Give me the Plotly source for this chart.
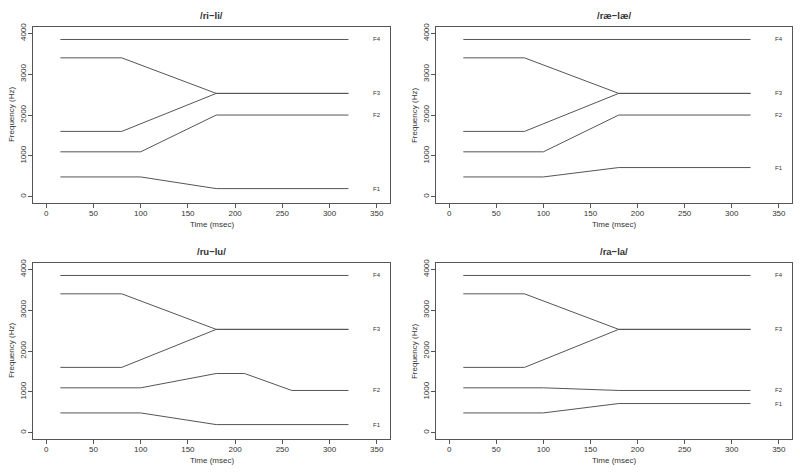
import plotly.graph_objects as go

# ---- data ----
titles = ["/ri\u2212li/", "/r\u00e6\u2212l\u00e6/", "/ru\u2212lu/", "/ra\u2212la/"]

t4 = [15, 320]
t3 = [15, 80, 180, 320]
t12 = [15, 100, 180, 320]
t2_ru = [15, 100, 180, 210, 260, 320]

f4 = [3850, 3850]
f3_r = [3400, 3400, 2530, 2530]
f3_l = [1600, 1600, 2530, 2530]

f2_ri = [1100, 1100, 2000, 2000]
f2_rae = [1100, 1100, 2000, 2000]
f2_ru = [1100, 1100, 1450, 1450, 1035, 1035]
f2_ra = [1100, 1100, 1035, 1035]

f1_ri = [485, 485, 200, 200]
f1_rae = [485, 485, 715, 715]
f1_ru = [485, 485, 200, 200]
f1_ra = [485, 485, 715, 715]

label_x = 350
formant_names = ["F1", "F2", "F3", "F4"]

x_ticks = [0, 50, 100, 150, 200, 250, 300, 350]
y_ticks = [0, 1000, 2000, 3000, 4000]

panels = [
    dict(f1=(t12, f1_ri), f2=(t12, f2_ri)),
    dict(f1=(t12, f1_rae), f2=(t12, f2_rae)),
    dict(f1=(t12, f1_ru), f2=(t2_ru, f2_ru)),
    dict(f1=(t12, f1_ra), f2=(t12, f2_ra)),
]

# ---- layout geometry (pixels) ----
W, H = 800, 473
boxes = [  # left, right, top, bottom
    (33, 390, 23, 201),
    (436, 792, 23, 201),
    (33, 390, 261, 439),
    (436, 792, 261, 439),
]

LINE = "#555555"
TXT = "#333333"
FONT = "Liberation Sans, Arial, sans-serif"

fig = go.Figure()
layout = dict(
    width=W, height=H, margin=dict(l=0, r=0, t=0, b=0),
    paper_bgcolor="white", plot_bgcolor="white", showlegend=False,
    font=dict(family=FONT, color=TXT, size=8),
)
annotations = []

for i, p in enumerate(panels):
    n = "" if i == 0 else str(i + 1)
    xa, ya = "x" + n, "y" + n
    traces = [p["f1"], p["f2"], (t3, f3_r), (t3, f3_l), (t4, f4)]
    for (tx, fy) in traces:
        fig.add_trace(go.Scatter(x=tx, y=fy, mode="lines", xaxis=xa, yaxis=ya,
                                 line=dict(color=LINE, width=1), hoverinfo="skip"))
    ends = [p["f1"][1][-1], p["f2"][1][-1], f3_r[-1], f4[-1]]
    for name, yv in zip(formant_names, ends):
        annotations.append(dict(x=label_x, y=yv, xref=xa, yref=ya, text=name,
                                showarrow=False, font=dict(size=6, color=TXT),
                                xanchor="center", yanchor="middle"))
    l, r, t, b = boxes[i]
    layout["xaxis" + n] = dict(
        domain=[l / W, r / W], range=[-14, 364], anchor=ya,
        tickvals=x_ticks, ticks="outside", ticklen=4, tickcolor=LINE,
        showline=True, mirror=True, linecolor=LINE, linewidth=1,
        showgrid=False, zeroline=False, tickfont=dict(size=8, color=TXT),
        ticklabelstandoff=-2,
    )
    layout["yaxis" + n] = dict(
        domain=[1 - b / H, 1 - t / H], range=[-160, 4160], anchor=xa,
        tickvals=y_ticks, ticks="outside", ticklen=4, tickcolor=LINE,
        showline=True, mirror=True, linecolor=LINE, linewidth=1,
        showgrid=False, zeroline=False, tickangle=-90,
        tickfont=dict(size=8, color=TXT), ticklabelstandoff=-1,
    )
    cx = (l + r) / 2 / W
    annotations.append(dict(x=cx, y=1 - (t - 11) / H, xref="paper", yref="paper",
                            text="<b>" + titles[i] + "</b>", showarrow=False,
                            font=dict(size=9.5, color=TXT),
                            xanchor="center", yanchor="middle"))
    annotations.append(dict(x=cx, y=1 - (b + 21) / H, xref="paper", yref="paper",
                            text="Time (msec)", showarrow=False,
                            font=dict(size=8, color=TXT),
                            xanchor="center", yanchor="middle"))
    annotations.append(dict(x=(l - 22) / W, y=1 - (t + b) / 2 / H, xref="paper", yref="paper",
                            text="Frequency (Hz)", showarrow=False, textangle=-90,
                            font=dict(size=8, color=TXT),
                            xanchor="center", yanchor="middle"))

layout["annotations"] = annotations
fig.update_layout(**layout)
fig.write_html("out.html", config={"displayModeBar": False},
               post_script="document.body.style.margin='0';document.body.style.padding='0';")
